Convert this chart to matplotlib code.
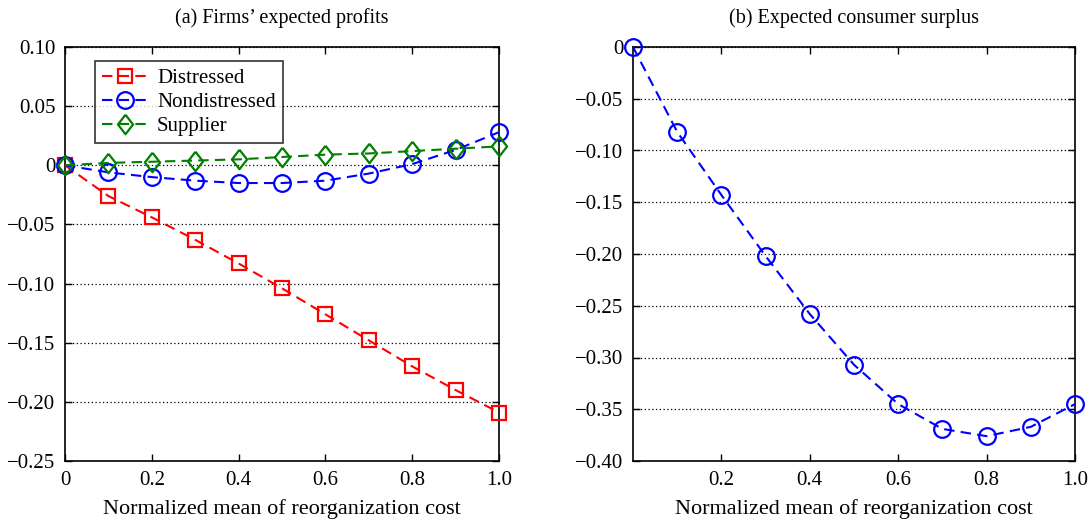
import matplotlib
matplotlib.use("Agg")
import matplotlib.pyplot as plt
import numpy as np

plt.rcParams['font.family'] = ['Liberation Serif', 'DejaVu Serif']
plt.rcParams['axes.unicode_minus'] = True

x = [0, 0.1, 0.2, 0.3, 0.4, 0.5, 0.6, 0.7, 0.8, 0.9, 1.0]
distressed = [0, -0.026, -0.044, -0.063, -0.083, -0.104, -0.126, -0.148, -0.170, -0.190, -0.209]
nondistressed = [0, -0.006, -0.010, -0.013, -0.015, -0.015, -0.013, -0.007, 0.001, 0.013, 0.028]
supplier = [0, 0.002, 0.003, 0.004, 0.005, 0.007, 0.009, 0.010, 0.012, 0.014, 0.016]
consumer_surplus = [0, -0.082, -0.143, -0.202, -0.258, -0.307, -0.345, -0.369, -0.376, -0.367, -0.345]

left_yticks = [0.10, 0.05, 0, -0.05, -0.10, -0.15, -0.20, -0.25]
left_yticklabels = ['0.10', '0.05', '0', '\u22120.05', '\u22120.10', '\u22120.15', '\u22120.20', '\u22120.25']
left_xticks = [0, 0.2, 0.4, 0.6, 0.8, 1.0]
left_xticklabels = ['0', '0.2', '0.4', '0.6', '0.8', '1.0']
right_yticks = [0, -0.05, -0.10, -0.15, -0.20, -0.25, -0.30, -0.35, -0.40]
right_yticklabels = ['0', '\u22120.05', '\u22120.10', '\u22120.15', '\u22120.20', '\u22120.25', '\u22120.30', '\u22120.35', '\u22120.40']
right_xticks = [0.2, 0.4, 0.6, 0.8, 1.0]
right_xticklabels = ['0.2', '0.4', '0.6', '0.8', '1.0']

fig = plt.figure(figsize=(10.9, 5.19), dpi=100)
ax1 = fig.add_axes([65/1090, 1-461/519, (499-65)/1090, (461-47)/519])
ax2 = fig.add_axes([633/1090, 1-461/519, (1075-633)/1090, (461-47)/519])

FS = 15
lw = 1.5
dash = (5, 3)
diamond = [(0, 1), (0.78, 0), (0, -1), (-0.78, 0), (0, 1)]
common = dict(ls='--', dashes=dash, mfc='none', mew=1.6, lw=lw, clip_on=False, zorder=3)
ax1.plot(x, distressed, color='red', marker='s', ms=9.5, label='Distressed', **common)
ax1.plot(x, nondistressed, color='blue', marker='o', ms=12, label='Nondistressed', **common)
ax1.plot(x, supplier, color='green', marker=diamond, ms=14, label='Supplier', **common)

ax2.plot(x, consumer_surplus, color='blue', marker='o', ms=12, **common)

for ax, yt, ytl, xt, xtl, ylim, title in [
    (ax1, left_yticks, left_yticklabels, left_xticks, left_xticklabels, (-0.25, 0.10), "(a) Firms\u2019 expected profits"),
    (ax2, right_yticks, right_yticklabels, right_xticks, right_xticklabels, (-0.40, 0.0), "(b) Expected consumer surplus"),
]:
    ax.set_xlim(0, 1.0)
    ax.set_ylim(*ylim)
    ax.set_yticks(yt)
    ax.set_yticklabels(ytl, fontsize=FS)
    ax.set_xticks(xt)
    ax.set_xticklabels(xtl, fontsize=FS)
    ax.tick_params(direction='in', top=True, right=True, length=5, width=1, pad=7)
    ax.grid(axis='y', linestyle=(0, (1, 2)), color='black', lw=0.9)
    ax.set_title(title, fontsize=14.5, pad=17)
    ax.set_xlabel('Normalized mean of reorganization cost', fontsize=16, labelpad=7)
    for s in ax.spines.values():
        s.set_linewidth(1.2)

leg = ax1.legend(loc='upper left', bbox_to_anchor=(0.068, 0.965), fontsize=FS, frameon=True, fancybox=False,
                 edgecolor='black', handlelength=2.2, borderpad=0.35, labelspacing=0.2, handletextpad=0.45,
                 borderaxespad=0.0)
leg.get_frame().set_linewidth(1.2)

fig.savefig('out.png', dpi=100)
